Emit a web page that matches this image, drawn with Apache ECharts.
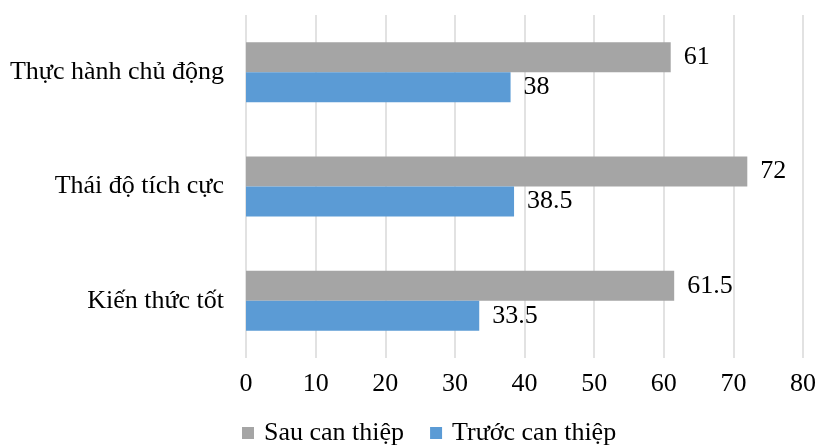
<!DOCTYPE html>
<html>
<head>
<meta charset="utf-8">
<script src="https://cdn.jsdelivr.net/npm/echarts@6/dist/echarts.min.js"></script>
<style>
  html, body { margin: 0; padding: 0; background: #fff; }
  #chart { width: 819px; height: 448px; }
</style>
</head>
<body>
<div id="chart"></div>
<script>
// Categories listed bottom-to-top (category axis starts at the bottom)
const categories = ['Kiến thức tốt', 'Thái độ tích cực', 'Thực hành chủ động'];
const seriesNames = ['Sau can thiệp', 'Trước can thiệp'];
const afterValues = [61.5, 72, 61];
const beforeValues = [33.5, 38.5, 38];
const xTicks = { min: 0, max: 80, interval: 10 };

const FONT = '"Liberation Serif", "Times New Roman", serif';
const FS = 26;
const chart = echarts.init(document.getElementById('chart'));

const labelStyle = {
  show: true,
  position: 'right',
  distance: 13,
  fontFamily: FONT,
  fontSize: FS,
  color: '#000'
};

chart.setOption({
  animation: false,
  textStyle: { fontFamily: FONT },
  grid: { left: 246, right: 11, top: 15, bottom: 90, containLabel: false },
  legend: {
    bottom: -3,
    left: 237,
    itemWidth: 12,
    itemHeight: 12,
    itemGap: 26,
    icon: 'rect',
    textStyle: { fontFamily: FONT, fontSize: FS, color: '#000', padding: [0, 0, 0, 5] },
    data: seriesNames
  },
  xAxis: {
    type: 'value',
    min: xTicks.min,
    max: xTicks.max,
    interval: xTicks.interval,
    axisLine: { show: false },
    axisTick: { show: false },
    axisLabel: { fontFamily: FONT, fontSize: FS, color: '#000', margin: 13 },
    splitLine: { show: true, lineStyle: { color: '#d9d9d9', width: 1.5 } }
  },
  yAxis: {
    type: 'category',
    data: categories,
    axisLine: { show: false },
    axisTick: { show: false },
    axisLabel: { fontFamily: FONT, fontSize: FS, color: '#000', margin: 22 }
  },
  series: [
    {
      name: seriesNames[0],
      type: 'bar',
      data: afterValues,
      barWidth: 30,
      barGap: '0%',
      itemStyle: { color: '#a5a5a5' },
      label: labelStyle
    },
    {
      name: seriesNames[1],
      type: 'bar',
      data: beforeValues,
      barWidth: 30,
      barGap: '0%',
      itemStyle: { color: '#5b9bd5' },
      label: labelStyle
    }
  ]
});
</script>
</body>
</html>
